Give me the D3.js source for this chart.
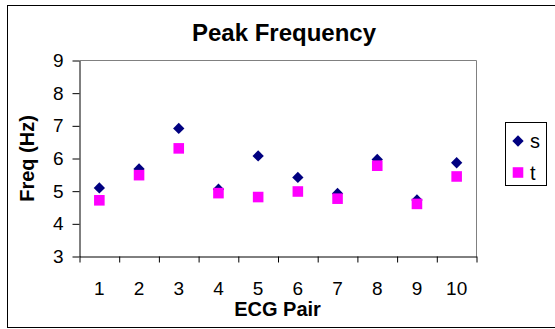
<!DOCTYPE html>
<html>
<head>
<meta charset="utf-8">
<script src="https://cdn.jsdelivr.net/npm/d3@7"></script>
<style>
  body { margin: 0; background: #fff; }
  svg { display: block; font-family: "Liberation Sans", Arial, sans-serif; }
</style>
</head>
<body>
<svg id="chart" width="555" height="329"></svg>
<script>
// data
var pairs = [1, 2, 3, 4, 5, 6, 7, 8, 9, 10];
var sValues = [5.1, 5.68, 6.92, 5.06, 6.08, 5.42, 4.93, 5.97, 4.73, 5.87];
var tValues = [4.72, 5.49, 6.31, 4.94, 4.82, 4.99, 4.77, 5.78, 4.61, 5.45];
var yTicks = [3, 4, 5, 6, 7, 8, 9];
var seriesNames = ["s", "t"];

var svg = d3.select("#chart");

// plot area
var plotLeft = 79.5, plotRight = 476.5, plotTop = 60.5, plotBottom = 256.5;

var x = d3.scaleBand().domain(pairs).range([plotLeft, plotRight]).padding(0);
var xEdges = d3.scaleLinear().domain([0, pairs.length]).range([plotLeft, plotRight]);
var y = d3.scaleLinear().domain([3, 9]).range([plotBottom, plotTop]);

// outer chart frame
svg.append("rect")
  .attr("x", 7.5).attr("y", 5.5)
  .attr("width", 560).attr("height", 322)
  .attr("fill", "#fff").attr("stroke", "#000");

// plot area frame (grey top & right)
svg.append("path")
  .attr("d", "M" + plotLeft + "," + plotTop + "H" + plotRight + "V" + plotBottom)
  .attr("fill", "none").attr("stroke", "#808080");

// y axis
var yAxis = svg.append("g")
  .attr("transform", "translate(" + plotLeft + ",0)")
  .call(d3.axisLeft(y).tickValues(yTicks).tickFormat(d3.format("d"))
    .tickSize(7).tickPadding(9).tickSizeOuter(0));
yAxis.select(".domain").attr("stroke", "#000");
yAxis.selectAll("text").attr("font-size", 19).attr("fill", "#000")
  .attr("font-family", "Liberation Sans, Arial, sans-serif");

// x axis ticks at category boundaries
var xTickAxis = svg.append("g")
  .attr("transform", "translate(0," + plotBottom + ")")
  .call(d3.axisBottom(xEdges).tickValues(d3.range(0, pairs.length + 1)).tickSize(6).tickSizeOuter(0).tickFormat(""));
xTickAxis.select(".domain").attr("stroke", "#000");

// x axis labels at category centres
var xLabelAxis = svg.append("g")
  .attr("transform", "translate(0," + plotBottom + ")")
  .call(d3.axisBottom(x).tickSize(0).tickPadding(25));
xLabelAxis.select(".domain").remove();
xLabelAxis.selectAll("text").attr("font-size", 19).attr("fill", "#000")
  .attr("font-family", "Liberation Sans, Arial, sans-serif");

var diamond = d3.symbol().type(d3.symbolSquare).size(64);
var square = d3.symbol().type(d3.symbolSquare).size(112);

// s series: navy diamonds
svg.append("g").selectAll("path")
  .data(sValues)
  .enter()
  .append("path")
  .attr("d", diamond)
  .attr("fill", "#000080")
  .attr("transform", function (d, i) {
    return "translate(" + (x(pairs[i]) + x.bandwidth() / 2) + "," + y(d) + ") rotate(45)";
  });

// t series: magenta squares
svg.append("g").selectAll("path")
  .data(tValues)
  .enter()
  .append("path")
  .attr("d", square)
  .attr("fill", "#ff00ff")
  .attr("transform", function (d, i) {
    return "translate(" + (x(pairs[i]) + x.bandwidth() / 2) + "," + y(d) + ")";
  });

// title
svg.append("text")
  .attr("x", 284).attr("y", 40.5)
  .attr("text-anchor", "middle")
  .attr("font-size", 24).attr("font-weight", "bold")
  .text("Peak Frequency");

// axis titles
svg.append("text")
  .attr("x", (plotLeft + plotRight) / 2 - 0.5).attr("y", 316)
  .attr("text-anchor", "middle")
  .attr("font-size", 20).attr("font-weight", "bold")
  .text("ECG Pair");

svg.append("text")
  .attr("transform", "translate(34," + (plotTop + plotBottom) / 2 + ") rotate(-90)")
  .attr("text-anchor", "middle")
  .attr("font-size", 20).attr("font-weight", "bold")
  .text("Freq (Hz)");

// legend
var legend = svg.append("g");
legend.append("rect")
  .attr("x", 505.5).attr("y", 122.5)
  .attr("width", 41).attr("height", 63)
  .attr("fill", "#fff").attr("stroke", "#000");

var legendY = d3.scalePoint().domain(seriesNames).range([141, 172.5]);
legend.append("path")
  .attr("d", diamond)
  .attr("fill", "#000080")
  .attr("transform", "translate(518," + legendY("s") + ") rotate(45)");
legend.append("path")
  .attr("d", square)
  .attr("fill", "#ff00ff")
  .attr("transform", "translate(518," + legendY("t") + ")");
legend.selectAll("text")
  .data(seriesNames)
  .enter()
  .append("text")
  .attr("x", 530)
  .attr("y", function (d) { return legendY(d) + 7; })
  .attr("font-size", 20)
  .text(function (d) { return d; });
</script>
</body>
</html>
